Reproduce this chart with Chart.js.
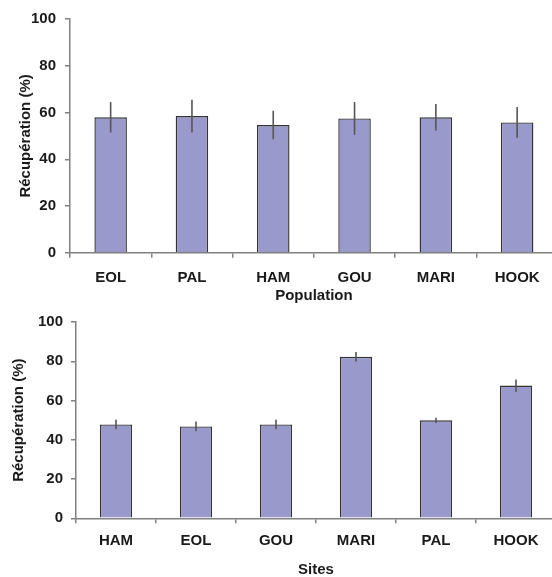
<!DOCTYPE html>
<html>
<head>
<meta charset="utf-8">
<script src="https://cdn.jsdelivr.net/npm/chart.js@4.4.0/dist/chart.umd.min.js"></script>
<style>
  html, body { margin: 0; padding: 0; background: #fff; }
  #wrap { position: relative; width: 552px; height: 577px; overflow: hidden; }
  canvas { position: absolute; left: 0; }
  #popChart { top: 0; }
  #siteChart { top: 305px; }
</style>
</head>
<body>
<div id="wrap">
  <canvas id="popChart" width="560" height="305"></canvas>
  <canvas id="siteChart" width="560" height="280"></canvas>
</div>
<script>
// Top chart: recovery by population
const popLabels = ['EOL', 'PAL', 'HAM', 'GOU', 'MARI', 'HOOK'];
const popValues = [58.0, 58.5, 54.7, 57.5, 58.0, 55.8];
const popErrors = [6.5, 7.0, 6.1, 7.0, 5.7, 6.6];

// Bottom chart: recovery by site
const siteLabels = ['HAM', 'EOL', 'GOU', 'MARI', 'PAL', 'HOOK'];
const siteValues = [47.8, 46.8, 47.8, 82.3, 49.9, 67.6];
const siteErrors = [2.4, 2.5, 2.4, 2.4, 1.3, 3.1];

// Shared y axis
const yTicks = [0, 20, 40, 60, 80, 100];
const yTitle = 'Récupération (%)';

const FONT = '"Liberation Sans", Arial, sans-serif';
const TEXT = '#1a1a1a';
const AXIS = '#808080';

// Draws the vertical error lines (no caps) on top of the bars
const errorBars = {
    id: 'errorBars',
    afterDatasetsDraw(chart) {
        const ctx = chart.ctx;
        const ds = chart.data.datasets[0];
        const meta = chart.getDatasetMeta(0);
        const yScale = chart.scales.y;
        ctx.save();
        ctx.strokeStyle = '#555555';
        ctx.lineWidth = 1.6;
        meta.data.forEach((bar, i) => {
            const top = yScale.getPixelForValue(ds.data[i] + ds.errors[i]);
            const bottom = yScale.getPixelForValue(ds.data[i] - ds.errors[i]);
            ctx.beginPath();
            ctx.moveTo(bar.x, top);
            ctx.lineTo(bar.x, bottom);
            ctx.stroke();
        });
        ctx.restore();
    }
};

function makeChart(canvasId, labels, values, errors, xTitle, g) {
    const canvas = document.getElementById(canvasId);
    return new Chart(canvas.getContext('2d'), {
        type: 'bar',
        data: {
            labels: labels,
            datasets: [{
                data: values,
                errors: errors,
                backgroundColor: '#9999cc',
                borderColor: '#333333',
                borderWidth: 1.4,
                categoryPercentage: 1.0,
                barPercentage: 0.4
            }]
        },
        options: {
            responsive: false,
            animation: false,
            layout: { padding: { top: g.top, right: g.right, left: 0, bottom: 0 } },
            plugins: {
                legend: { display: false },
                tooltip: { enabled: false }
            },
            scales: {
                x: {
                    afterFit: s => { s.height = canvas.height - g.bottom; },
                    border: { display: true, color: AXIS, width: 1.5 },
                    grid: { drawOnChartArea: false, drawTicks: true, tickLength: 5, color: AXIS, lineWidth: 1.5 },
                    ticks: { color: TEXT, padding: g.xPad, font: { family: FONT, size: 15, weight: 'bold' } },
                    title: {
                        display: true,
                        text: xTitle,
                        color: TEXT,
                        padding: { top: 0, bottom: g.xTitlePad },
                        font: { family: FONT, size: 15, weight: 'bold' }
                    }
                },
                y: {
                    min: yTicks[0],
                    max: yTicks[yTicks.length - 1],
                    afterFit: s => { s.width = g.left; },
                    border: { display: true, color: AXIS, width: 1.5 },
                    grid: { drawOnChartArea: false, drawTicks: true, tickLength: 5, color: AXIS, lineWidth: 1.5 },
                    ticks: {
                        stepSize: yTicks[1] - yTicks[0],
                        color: TEXT,
                        padding: g.yPad,
                        font: { family: FONT, size: 15, weight: 'bold' }
                    },
                    title: {
                        display: true,
                        text: yTitle,
                        color: TEXT,
                        padding: { top: g.yTitlePad, bottom: 0 },
                        font: { family: FONT, size: 15, weight: 'bold' }
                    }
                }
            }
        },
        plugins: [errorBars]
    });
}

makeChart('popChart', popLabels, popValues, popErrors, 'Population',
    { left: 70, top: 19.2, bottom: 252.7, right: 2.2, xPad: 11, yPad: 9, xTitlePad: 0, yTitlePad: 17 });

makeChart('siteChart', siteLabels, siteValues, siteErrors, 'Sites',
    { left: 76, top: 10.3, bottom: 213.3, right: 4, xPad: 9, yPad: 8, xTitlePad: 6, yTitlePad: 10 });
</script>
</body>
</html>
